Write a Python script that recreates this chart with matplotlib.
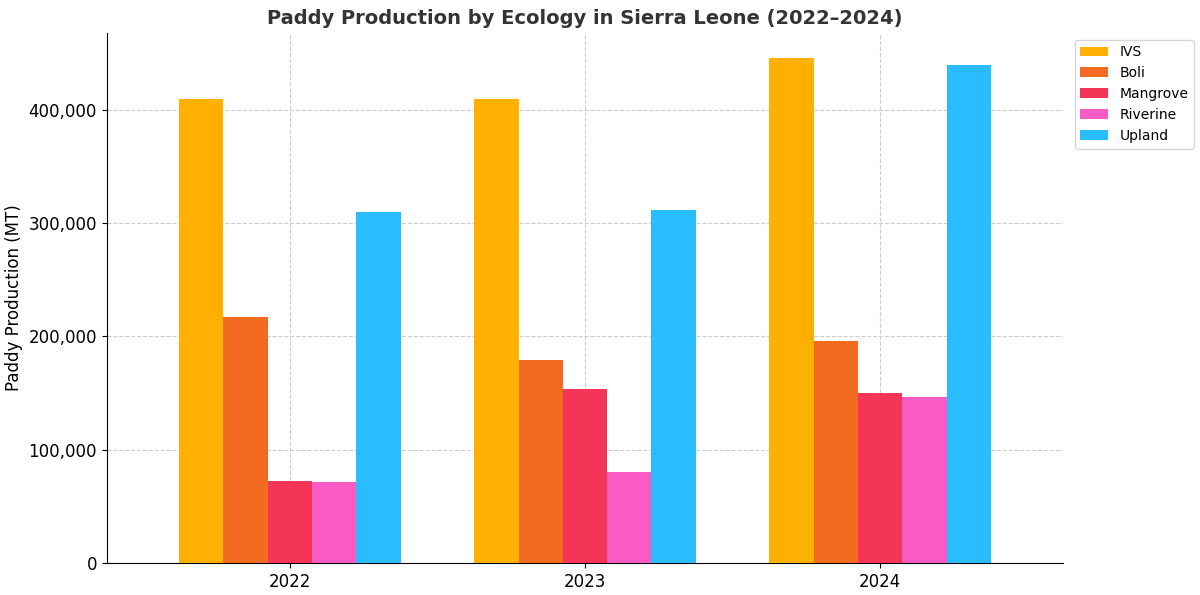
import numpy as np
import matplotlib
matplotlib.use("Agg")
from matplotlib import pyplot as plt
from matplotlib.ticker import FuncFormatter

years = ["2022", "2023", "2024"]
ecologies = ["IVS", "Boli", "Mangrove", "Riverine", "Upland"]
ivs = [410000, 410000, 446000]
boli = [217500, 179000, 196000]
mangrove = [72000, 154000, 150000]
riverine = [71000, 80500, 146500]
upland = [309500, 311500, 439500]
colors = ["#FFB000", "#F26B21", "#F43558", "#F95BC4", "#29BCFF"]

series = [ivs, boli, mangrove, riverine, upland]

fig, ax = plt.subplots(figsize=(12, 5.95), dpi=100)
fig.subplots_adjust(left=0.089, right=0.886, top=0.945, bottom=0.054)

x = np.arange(len(years))
width = 0.15
for i, (name, vals) in enumerate(zip(ecologies, series)):
    ax.bar(x + (i - 2) * width, vals, width, label=name, color=colors[i], zorder=3)

ax.set_xticks(x)
ax.set_xticklabels(years, fontsize=12)
ax.tick_params(axis="y", labelsize=12)
ax.set_xlim(-0.62, 2.62)
ax.yaxis.set_major_formatter(FuncFormatter(lambda v, p: f"{int(v):,}"))
ax.set_ylabel("Paddy Production (MT)", fontsize=12)
ax.set_title("Paddy Production by Ecology in Sierra Leone (2022\u20132024)",
             fontsize=14, fontweight="bold", color="#333333")
ax.grid(True, linestyle="--", color="#cccccc", linewidth=0.8, zorder=0)
ax.spines["top"].set_visible(False)
ax.spines["right"].set_visible(False)
ax.legend(loc="upper left", bbox_to_anchor=(1.005, 1.0), fontsize=10)

plt.savefig("out.png")
